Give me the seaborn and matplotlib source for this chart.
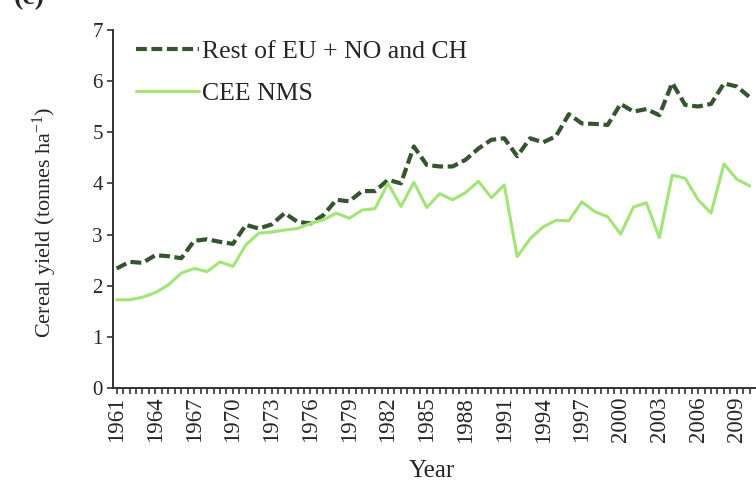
import numpy as np
import pandas as pd
import matplotlib
matplotlib.use("Agg")
import matplotlib.pyplot as plt
from matplotlib.ticker import FixedLocator, MultipleLocator
import seaborn as sns

# ---------------------------------------------------------------------------
# DATA
# ---------------------------------------------------------------------------
years = list(range(1961, 2011))

rest_eu = [2.34, 2.47, 2.45, 2.60, 2.58, 2.54, 2.88, 2.91, 2.86, 2.82,
           3.19, 3.12, 3.20, 3.42, 3.25, 3.22, 3.38, 3.68, 3.65, 3.85,
           3.85, 4.07, 4.00, 4.72, 4.36, 4.33, 4.33, 4.46, 4.68, 4.85,
           4.88, 4.53, 4.88, 4.80, 4.92, 5.35, 5.17, 5.16, 5.14, 5.55,
           5.40, 5.45, 5.33, 5.96, 5.53, 5.50, 5.55, 5.95, 5.89, 5.68]

cee_nms = [1.73, 1.73, 1.78, 1.87, 2.02, 2.25, 2.34, 2.28, 2.47, 2.38,
           2.80, 3.03, 3.05, 3.09, 3.12, 3.22, 3.29, 3.42, 3.32, 3.48,
           3.51, 4.00, 3.55, 4.02, 3.53, 3.80, 3.68, 3.82, 4.04, 3.72,
           3.97, 2.57, 2.92, 3.15, 3.28, 3.27, 3.64, 3.45, 3.35, 3.01,
           3.54, 3.62, 2.94, 4.16, 4.10, 3.68, 3.42, 4.38, 4.08, 3.95]

label_rest = "Rest of EU + NO and CH"
label_cee = "CEE NMS"
tick_years = list(range(1961, 2010, 3))

DARK = "#35552f"
LIGHT = "#a3e476"
AXIS = "#333333"

df = pd.DataFrame({"year": years, "rest": rest_eu, "cee": cee_nms})

# ---------------------------------------------------------------------------
# FIGURE
# ---------------------------------------------------------------------------
sns.set_style("ticks")
plt.rcParams["font.family"] = ["Liberation Serif", "DejaVu Serif"]
plt.rcParams["mathtext.fontset"] = "custom"
plt.rcParams["mathtext.rm"] = "Liberation Serif"
plt.rcParams["mathtext.it"] = "Liberation Serif:italic"

fig = plt.figure(figsize=(7.56, 4.93), dpi=100)
ax = fig.add_axes([0.149, 0.212, 0.851, 0.728])

sns.lineplot(data=df, x="year", y="rest", ax=ax, color=DARK,
             linewidth=3.0, label=label_rest)
ax.lines[-1].set_dashes((2.6, 1.1))
sns.lineplot(data=df, x="year", y="cee", ax=ax, color=LIGHT,
             linewidth=2.2, label=label_cee)

ax.set_xlim(1960.69, 2010.48)
ax.set_ylim(0, 7)
ax.yaxis.set_major_locator(MultipleLocator(1))
ax.xaxis.set_major_locator(FixedLocator(tick_years))
ax.xaxis.set_minor_locator(MultipleLocator(0.5))
ax.set_xticklabels([str(y) for y in tick_years], rotation=90)

ax.tick_params(axis="y", which="major", labelsize=15, length=4,
               width=1.2, direction="out", color=AXIS, pad=3)
ax.tick_params(axis="x", which="major", labelsize=16.5, length=4,
               width=1.2, direction="out", color=AXIS, pad=2)
ax.tick_params(axis="x", which="minor", length=4, width=1.2,
               direction="out", color=AXIS)

for side in ["top", "right"]:
    ax.spines[side].set_visible(False)
for side in ["left", "bottom"]:
    ax.spines[side].set_linewidth(1.4)
    ax.spines[side].set_color(AXIS)

ax.set_xlabel("Year", fontsize=18)
ax.xaxis.set_label_coords(0.496, -0.20)
ax.set_ylabel(r"Cereal yield (tonnes ha$^{\mathrm{-1}}$)", fontsize=16)
ax.yaxis.set_label_coords(-0.083, 0.464)

leg = ax.legend(loc="upper left", bbox_to_anchor=(0.036, 0.97),
                frameon=False, fontsize=18.5, handlelength=2.45,
                handletextpad=0.12, labelspacing=0.72, borderpad=0,
                borderaxespad=0)

fig.text(0.018, 0.992, "(c)", fontsize=20, fontweight="bold", va="baseline")

fig.savefig("out.png", dpi=100)
plt.close(fig)
